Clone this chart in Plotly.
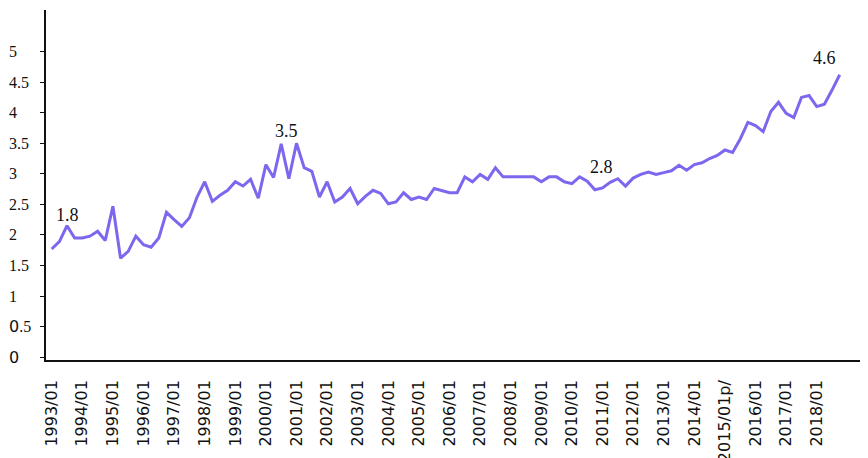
import plotly.graph_objects as go

years = list(range(1993, 2019))
quarters = ["01", "02", "03", "04"]
periods = [f"{y}/{q}" for y in years for q in quarters]

values = [
    1.77, 1.89, 2.15, 1.95, 1.95, 1.98, 2.06, 1.91, 2.47, 1.62,
    1.73, 1.98, 1.84, 1.80, 1.95, 2.37, 2.25, 2.14, 2.28, 2.62,
    2.87, 2.55, 2.65, 2.73, 2.87, 2.80, 2.91, 2.60, 3.15, 2.94,
    3.49, 2.92, 3.50, 3.10, 3.04, 2.62, 2.87, 2.54, 2.62, 2.76,
    2.51, 2.63, 2.73, 2.68, 2.51, 2.54, 2.69, 2.58, 2.62, 2.58,
    2.76, 2.73, 2.69, 2.69, 2.95, 2.87, 2.99, 2.91, 3.10, 2.95,
    2.95, 2.95, 2.95, 2.95, 2.87, 2.95, 2.95, 2.87, 2.84, 2.95,
    2.88, 2.74, 2.77, 2.86, 2.92, 2.80, 2.93, 2.99, 3.03, 2.99,
    3.02, 3.05, 3.14, 3.06, 3.15, 3.18, 3.25, 3.30, 3.39, 3.35,
    3.57, 3.84, 3.79, 3.69, 4.02, 4.17, 3.99, 3.92, 4.25, 4.28,
    4.10, 4.14, 4.37, 4.62,
]

tick_labels = [
    "1993/01", "1994/01", "1995/01", "1996/01", "1997/01", "1998/01", "1999/01",
    "2000/01", "2001/01", "2002/01", "2003/01", "2004/01", "2005/01", "2006/01",
    "2007/01", "2008/01", "2009/01", "2010/01", "2011/01", "2012/01", "2013/01",
    "2014/01", "2015/01p/", "2016/01", "2017/01", "2018/01",
]
tick_positions = periods[::4]

y_ticks = [0, 0.5, 1, 1.5, 2, 2.5, 3, 3.5, 4, 4.5, 5]
y_tick_text = ["0", "0.5", "1", "1.5", "2", "2.5", "3", "3.5", "4", "4.5", "5"]

callout_text = ["1.8", "3.5", "2.8", "4.6"]
callout_x = [2.09, 30.7, 71.8, 101.0]
callout_y = [2.32, 3.70, 3.11, 4.90]

fig = go.Figure()
fig.add_trace(go.Scatter(
    x=periods, y=values, mode="lines",
    line=dict(color="#7B68EE", width=3),
    hoverinfo="x+y", showlegend=False,
))

annotations = []
for t, xv, yv in zip(callout_text, callout_x, callout_y):
    annotations.append(dict(
        x=xv, y=yv, xref="x", yref="y", text=t, showarrow=False,
        xanchor="center", yanchor="middle",
        font=dict(family="Liberation Serif, serif", size=18, color="#111"),
    ))

for yv, t in zip(y_ticks, y_tick_text):
    html = t.replace("0", "<span style='font-family:DejaVu Sans'>0</span>")
    annotations.append(dict(
        x=-0.0475, y=yv, xref="paper", yref="y", text=html, showarrow=False,
        xanchor="left", yanchor="middle",
        font=dict(family="Liberation Serif, serif", size=16, color="#111"),
    ))

fig.update_layout(
    width=860, height=450,
    margin=dict(l=38, r=1, t=2, b=98, autoexpand=False),
    paper_bgcolor="white", plot_bgcolor="white",
    annotations=annotations,
    xaxis=dict(
        type="category",
        range=[-0.745, 106.57],
        tickmode="array", tickvals=tick_positions, ticktext=tick_labels,
        tickangle=-90,
        tickfont=dict(family="DejaVu Sans, sans-serif", size=16, color="#111"),
        showline=True, linecolor="#111", linewidth=1.5,
        showgrid=False, zeroline=False, ticks="",
        automargin=False, ticklabelstandoff=12,
    ),
    yaxis=dict(
        range=[-0.046, 5.68],
        tickmode="array", tickvals=y_ticks,
        showticklabels=False,
        ticks="outside", ticklen=4, tickcolor="#111", tickwidth=1,
        showline=True, linecolor="#111", linewidth=1.5,
        showgrid=False, zeroline=False, automargin=False,
    ),
)

fig.write_html("out.html")
